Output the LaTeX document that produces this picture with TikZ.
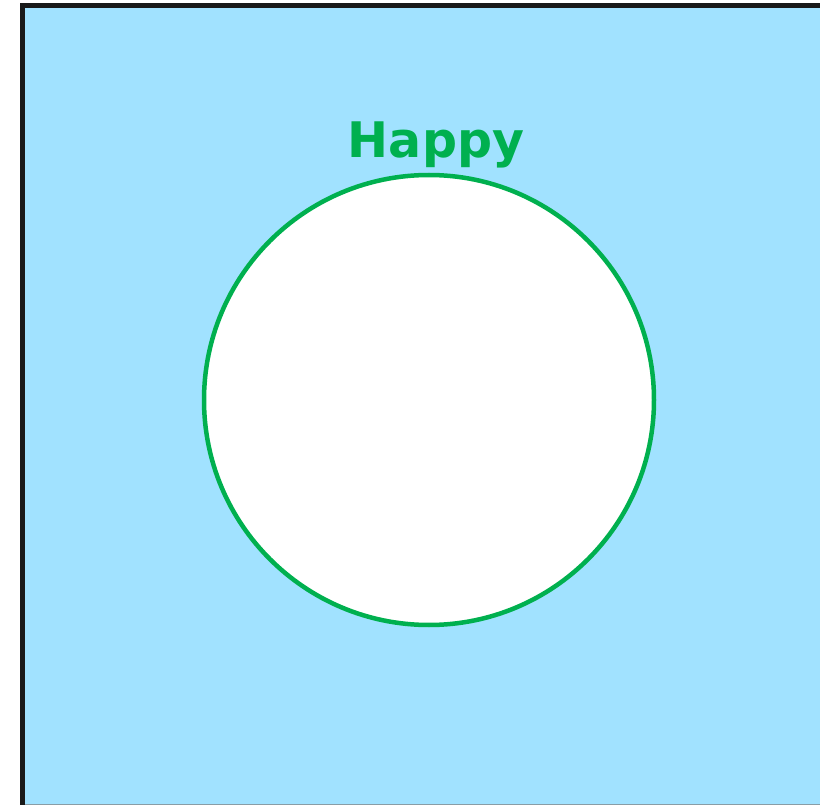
\documentclass[tikz,border=0pt]{standalone}
\usepackage{fontspec}
\setmainfont{DejaVu Sans}
\usetikzlibrary{positioning}
\definecolor{skycol}{HTML}{A1E2FF}
\definecolor{happycol}{HTML}{00B04F}
\tikzset{
  setbox/.style={draw=happycol, line width=4.5pt, fill=white, circle,
                 minimum size=450pt, inner sep=0},
  setlabel/.style={font=\fontsize{49}{51}\selectfont\bfseries, text=happycol,
                   inner sep=0},
}

\begin{document}
\begin{tikzpicture}[x=1pt, y=-1pt]
    \useasboundingbox (0,0) rectangle (820,805);

    % Universe
    \fill[skycol] (22,5) rectangle (820,805);
    \draw[gray!70!skycol, line width=1pt] (22,804.5) -- (820,804.5);
    \draw[black!90, line width=4.5pt] (22.5,805) -- (22.5,5.5) -- (820,5.5);

    % Happy set
    \node[setbox] (happy) at (429,400) {};
    \node[setlabel, anchor=base] (happylbl) at (436,158) {Happy};
\end{tikzpicture}
\end{document}
